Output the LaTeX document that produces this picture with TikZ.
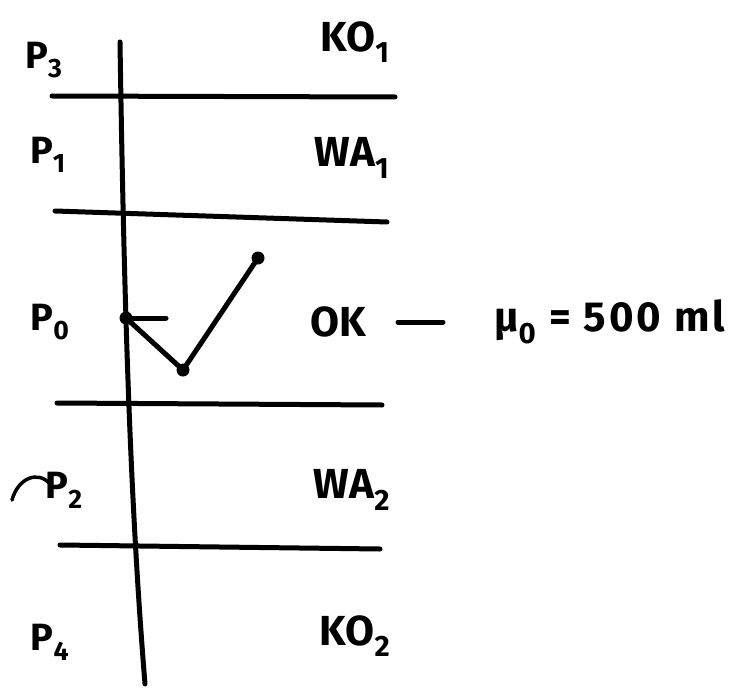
\documentclass[tikz,border=0pt]{standalone}
\usepackage{fontspec}
\setmainfont{Fira Sans}
\newcommand{\sub}[1]{\textsubscript{#1}}
\begin{document}
\begin{tikzpicture}[x=1pt,y=-1pt,
  stroke/.style={line width=5pt,line cap=round,line join=round},
  lbl/.style={font=\fontsize{42}{42}\selectfont\bfseries,inner sep=0pt},
  plbl/.style={font=\fontsize{38}{38}\selectfont\bfseries,inner sep=0pt},
  dotc/.style={circle,fill,inner sep=0pt,minimum size=13pt}]
\useasboundingbox (0,0) rectangle (751,687);
% axis
\coordinate (top) at (120,42);
\coordinate (bot) at (145,684);
\draw[stroke] (top) .. controls (124,300) and (130,500) .. (bot);
% separators
\coordinate (h1a) at (52,96); \coordinate (h1b) at (395,97);
\coordinate (h2a) at (55,211); \coordinate (h2b) at (387,222);
\coordinate (h3a) at (57,403); \coordinate (h3b) at (382,405);
\coordinate (h4a) at (60,545); \coordinate (h4b) at (380,549);
\draw[stroke] (h1a) -- (h1b);
\draw[stroke] (h2a) -- (h2b);
\draw[stroke] (h3a) -- (h3b);
\draw[stroke] (h4a) -- (h4b);
% check mark
\node[dotc] (d0) at (126,318) {};
\node[dotc] (d1) at (183,370) {};
\node[dotc] (d2) at (258,258) {};
\coordinate (tick) at (166,318);
\draw[stroke] (d0.center) -- (tick);
\draw[stroke] (d0.center) -- (d1.center) -- (d2.center);
% left labels
\node[plbl] (p3) at (44,60) {P\sub{3}};
\node[plbl] (p1) at (48,155) {P\sub{1}};
\node[plbl] (p0) at (50,322) {P\sub{0}};
\node[plbl] (p2) at (64,490) {P\sub{2}};
\node[plbl] (p4) at (50,642) {P\sub{4}};
\draw[line width=3.5pt,line cap=round] (12,500) .. controls (18,478) and (38,470) .. (50,484);
% right labels
\node[lbl] (ko1) at (355,42) {KO\sub{1}};
\node[lbl] (wa1) at (352,158) {WA\sub{1}};
\node[lbl] (ok) at (338,322) {OK};
\node[lbl] (wa2) at (352,490) {WA\sub{2}};
\node[lbl] (ko2) at (355,636) {KO\sub{2}};
\node[lbl,anchor=west] (mu) at (494,322) {\addfontfeatures{LetterSpace=7}μ\sub{0} = 500 ml};
\draw[stroke] (ok.east) ++(32,0) coordinate (da) -- ++(45,0) coordinate (db);
\end{tikzpicture}
\end{document}
